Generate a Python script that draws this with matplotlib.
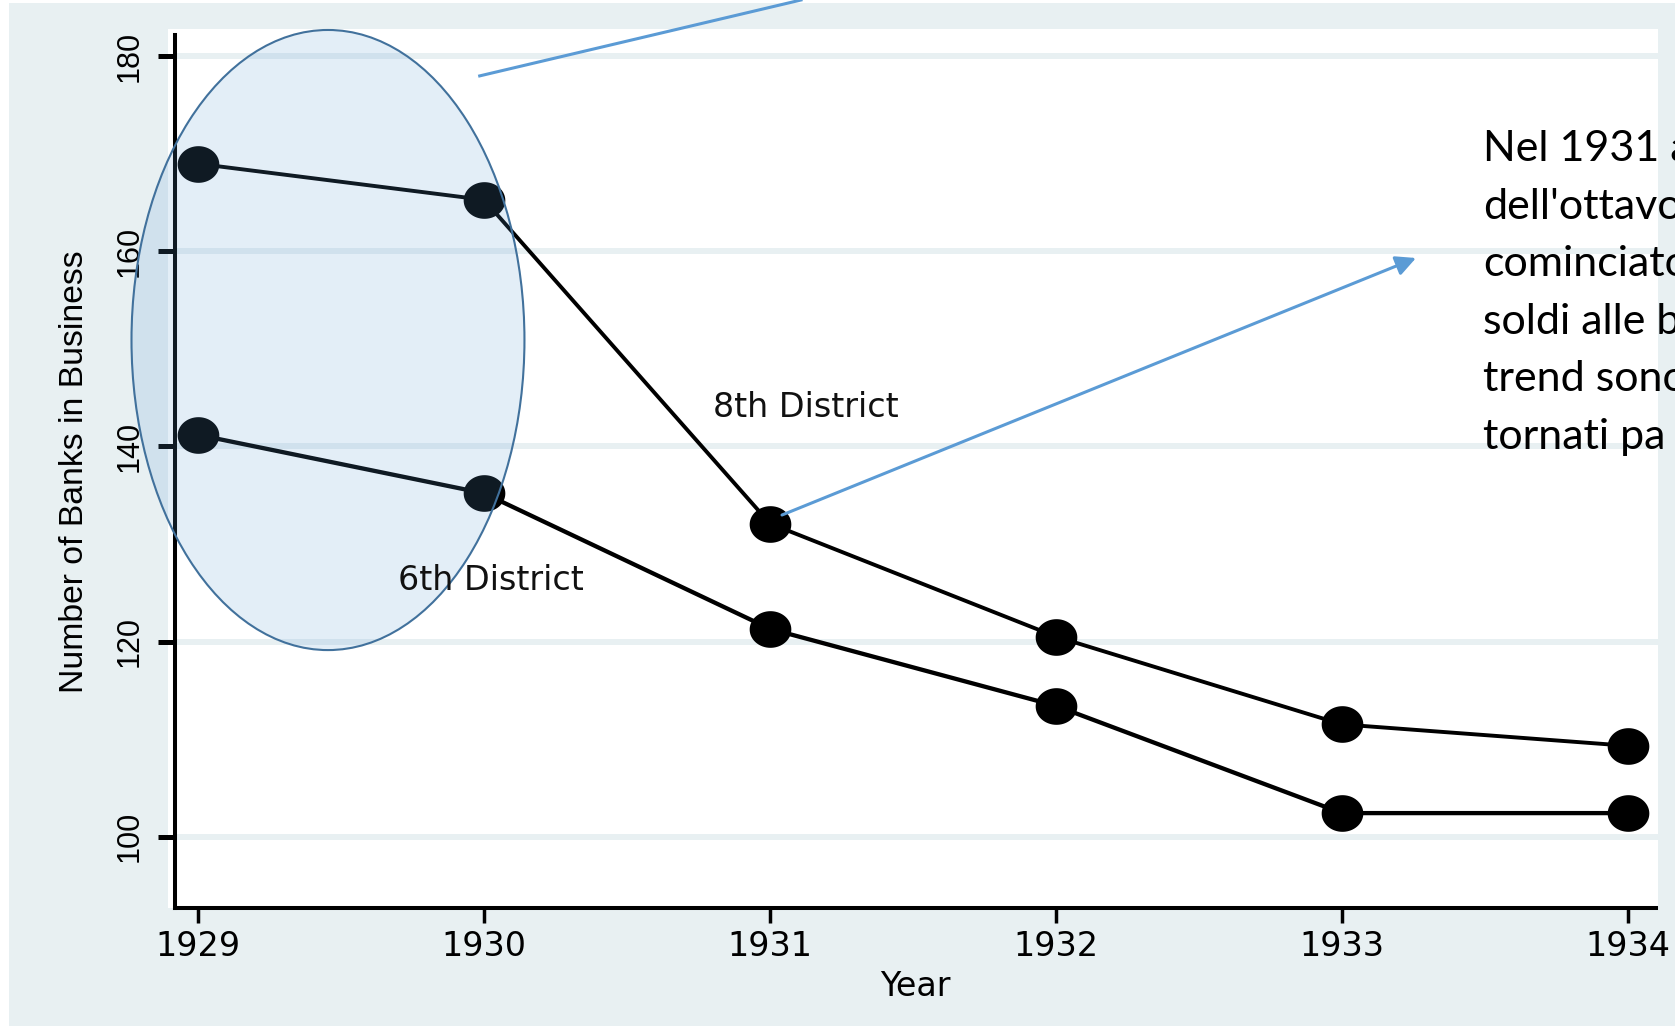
import numpy as np
import matplotlib
matplotlib.use('Agg')
import matplotlib.pyplot as plt
from matplotlib.patches import Ellipse, Rectangle, FancyArrowPatch
from matplotlib.lines import Line2D
from matplotlib.path import Path

# ---- data ----
years = [1929, 1930, 1931, 1932, 1933, 1934]
district8 = [169.0, 165.3, 132.1, 120.5, 111.5, 109.3]
district6 = [141.2, 135.2, 121.3, 113.4, 102.4, 102.4]
yticks = [100, 120, 140, 160, 180]
xticks = years
xlabel_text = "Year"
ylabel_text = "Number of Banks in Business"
series_labels = ["8th District", "6th District"]
note_lines = ["Nel 1931 a", "dell'ottavo", "cominciato", "soldi alle b", "trend sono", "tornati pa"]

# ---- figure ----
W, H = 1675, 1026
fig = plt.figure(figsize=(W / 100, H / 100), dpi=100)
fig.patch.set_facecolor('white')


def fx(px):
    return px / W


def fy(py):
    return 1 - py / H


BG = '#e8f0f2'
fig.patches.append(Rectangle((fx(9), 0), 1, fy(3), transform=fig.transFigure,
                             facecolor=BG, edgecolor='none', zorder=-10))
fig.patches.append(Rectangle((fx(168), fy(908)), fx(1658) - fx(168), fy(29) - fy(908),
                             transform=fig.transFigure, facecolor='white',
                             edgecolor='none', zorder=-9))

ax = fig.add_axes([fx(175), fy(908), fx(1658) - fx(175), fy(29) - fy(908)])
ax.set_facecolor('none')
ax.set_xlim(1928.9196, 1934.105)
ax.set_ylim(92.667, 182.82)

# grid
ax.set_yticks(yticks)
ax.set_xticks(xticks)
ax.yaxis.grid(True, color=BG, lw=4.3)
ax.xaxis.grid(False)
ax.set_axisbelow(True)

# spines
for s in ['top', 'right']:
    ax.spines[s].set_visible(False)
ax.spines['left'].set_linewidth(2.9)
ax.spines['bottom'].set_linewidth(2.9)
ax.spines['left'].set_bounds(92.667, 182.2)
ax.spines['bottom'].set_bounds(1928.9196, 1934.098)

ax.tick_params(axis='y', length=12, width=3.6, pad=10, labelsize=22, colors='black')
ax.tick_params(axis='x', length=10.8, width=2.5, pad=5, labelsize=24, colors='black')
ax.set_yticklabels([str(v) for v in yticks])
ax.set_xticklabels([str(v) for v in xticks])
for lbl in ax.get_yticklabels():
    lbl.set_fontfamily('Liberation Sans')
    lbl.set_rotation(90)
    lbl.set_verticalalignment('center')
for lbl in ax.get_xticklabels():
    lbl.set_fontfamily('DejaVu Sans')

ax.set_xlabel(xlabel_text, fontsize=24, family='DejaVu Sans')
ax.xaxis.set_label_coords((915 - 175) / 1483, (908 - 987) / 879)
ax.xaxis.label.set_verticalalignment('center')
ax.set_ylabel(ylabel_text, fontsize=24.3, family='Liberation Sans')
ax.yaxis.set_label_coords((75 - 175) / 1483, (908 - 471.5) / 879)
ax.yaxis.label.set_verticalalignment('center')

# elliptical marker
theta = np.linspace(0, 2 * np.pi, 72)
ell = Path(np.column_stack([np.cos(theta), 0.88 * np.sin(theta)]), closed=True)

for vals, lw in [(district8, 2.8), (district6, 3.1)]:
    ax.plot(years, vals, color='black', lw=lw, zorder=3)
    ax.plot(years, vals, ls='none', marker=ell, ms=30, mfc='black', mec='black',
            mew=0, zorder=4, clip_on=False)

ax.text(1930.80, 143.03, series_labels[0], fontsize=24, family='DejaVu Sans',
        ha='left', va='baseline', color='#111111', zorder=6)
ax.text(1929.70, 125.28, series_labels[1], fontsize=24, family='DejaVu Sans',
        ha='left', va='baseline', color='#111111', zorder=6)

# highlight ellipse
ax.add_patch(Ellipse((1929.4545, 150.92), 1.374, 63.6,
                     facecolor=(91 / 255, 155 / 255, 213 / 255, 0.17),
                     edgecolor='#41719c', lw=1.5, zorder=5, clip_on=False))

# connector lines
blue = '#5b9bd5'
fig.add_artist(Line2D([fx(479.7), fx(801)], [fy(75.9), fy(0)],
                      transform=fig.transFigure, color=blue, lw=2.2))
fig.add_artist(FancyArrowPatch((fx(782), fy(515)), (fx(1416), fy(258)),
                               transform=fig.transFigure,
                               arrowstyle='-|>,head_length=0.6,head_width=0.3',
                               mutation_scale=20, color=blue, lw=2.2,
                               shrinkA=0, shrinkB=0))

# side note (cut off by the figure edge)
for i, line in enumerate(note_lines):
    fig.text(fx(1483), fy(161 + 57.5 * i), line, fontsize=31, family='Lato',
             ha='left', va='baseline', color='black')

fig.savefig('out.png', dpi=100)
